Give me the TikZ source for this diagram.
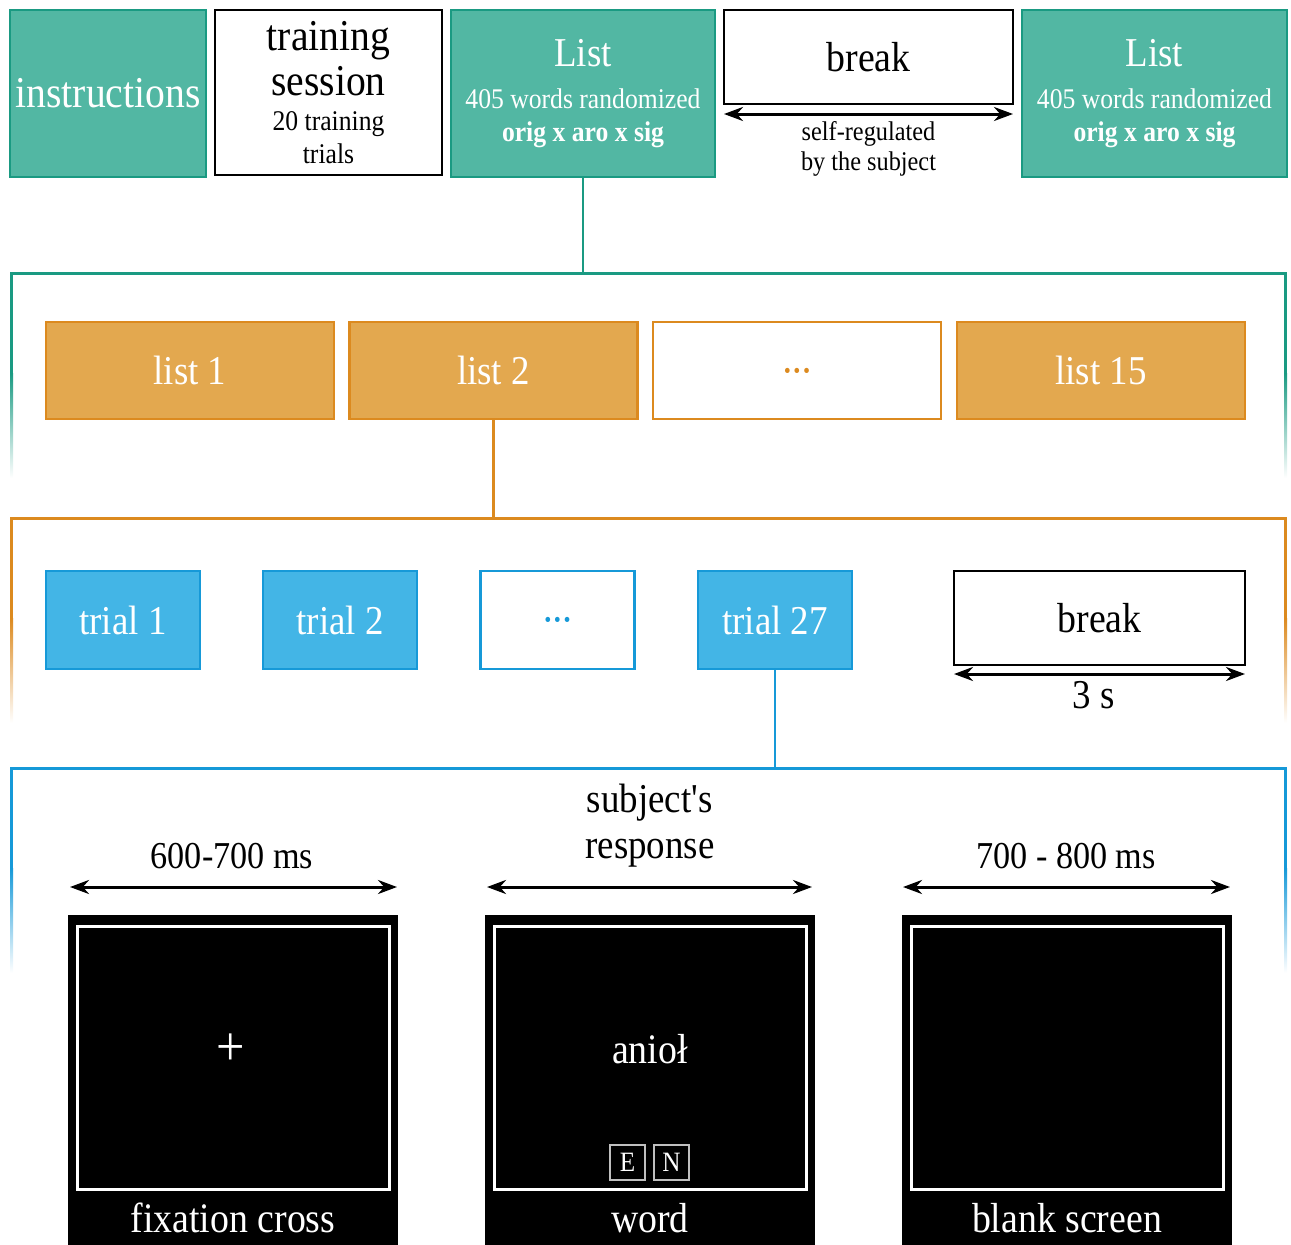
\documentclass[tikz,border=0pt]{standalone}
\usepackage{fontspec}
\setmainfont{Liberation Serif}[FakeStretch=0.9]
\usetikzlibrary{arrows.meta}

\definecolor{tealfill}{HTML}{52B7A3}
\definecolor{tealline}{HTML}{1A9A82}
\definecolor{orangefill}{HTML}{E3A84F}
\definecolor{orangeline}{HTML}{DC8A1F}
\definecolor{bluefill}{HTML}{43B5E6}
\definecolor{blueline}{HTML}{1699D8}

\newcommand{\txthuge}{\fontsize{44}{45}\selectfont}
\newcommand{\txtbig}{\fontsize{41}{46}\selectfont}
\newcommand{\txtsmall}{\fontsize{28.5}{33}\selectfont}

\tikzset{
  tealbox/.style={draw=tealline, fill=tealfill, line width=2.5pt, text=white, inner sep=0pt, align=center},
  orangebox/.style={draw=orangeline, fill=orangefill, line width=2.5pt, text=white, inner sep=0pt,
    minimum width=288, minimum height=97, font=\txtbig},
  bluebox/.style={draw=blueline, fill=bluefill, line width=2.5pt, text=white, inner sep=0pt,
    minimum width=154, minimum height=98, font=\txtbig},
  dotsbox/.style={fill=white, font=\fontsize{32}{34}\selectfont\bfseries, text height=21pt, text depth=0pt},
  plainbox/.style={draw=black, fill=white, line width=2pt, inner sep=0pt, align=center},
  screen/.style={fill=black, inner sep=0pt, minimum width=330, minimum height=330},
  screenin/.style={draw=white, line width=3pt, inner sep=0pt, minimum width=312, minimum height=263,
    text=white, font=\fontsize{42}{46}\selectfont},
  keybox/.style={draw=white!75!black, line width=1.2pt, inner sep=0pt, minimum size=35,
    text=white, font=\fontsize{28}{30}\selectfont},
  dimarrow/.style={{Stealth[length=19pt,width=14pt]}-{Stealth[length=19pt,width=14pt]}, line width=3pt},
  link/.style={line width=2.5pt},
}

\begin{document}
\begin{tikzpicture}[x=1pt,y=-1pt]
  \useasboundingbox (0,0) rectangle (1291,1245);

  % session
  \node[tealbox, minimum width=196, minimum height=167, font=\txthuge] (instr) at (108,93.5) {instructions};
  \node[plainbox, minimum width=227, minimum height=165, font=\txtsmall] (train) at (328.5,92.5)
    {{\txthuge training}\\[5.5pt]{\txthuge session}\\[2pt]20 training\\trials};
  \node[tealbox, minimum width=264, minimum height=167, font=\txtsmall] (listA) at (583,93.5)
    {{\txtbig List}\\[9pt]405 words randomized\\\textbf{orig x aro x sig}};
  \node[plainbox, minimum width=289, minimum height=94, font=\fontsize{42}{46}\selectfont] (pauseA) at (868.5,57) {break};
  \node[tealbox, minimum width=265, minimum height=167, font=\txtsmall] (listB) at (1154.5,93.5)
    {{\txtbig List}\\[9pt]405 words randomized\\\textbf{orig x aro x sig}};

  \coordinate (pauseAl) at (724,114);
  \coordinate (pauseAr) at (1013,114);
  \draw[dimarrow] (pauseAl) -- (pauseAr);
  \node[align=center, font=\fontsize{27}{30}\selectfont] (selfreg) at (868.5,149) {self-regulated\\by the subject};

  % frames with fading sides
  \foreach \col/\yy in {tealline/273, orangeline/518, blueline/768} {
    \draw[\col, line width=3pt] (10,\yy) -- (1287,\yy);
    \fill[\col] (10,\yy-1.5) rectangle (13,\yy+100);
    \shade[top color=\col, bottom color=white] (10,\yy+100) rectangle (13,\yy+205);
    \fill[\col] (1284,\yy-1.5) rectangle (1287,\yy+100);
    \shade[top color=\col, bottom color=white] (1284,\yy+100) rectangle (1287,\yy+205);
  }
  \coordinate (tealtop) at (0,273);
  \coordinate (orangetop) at (0,518);
  \coordinate (bluetop) at (0,768);

  % lists
  \node[orangebox] (list1) at (190,370.5) {list 1};
  \node[orangebox] (list2) at (493.5,370.5) {list 2};
  \node[orangebox, dotsbox, text=orangeline] (listdots) at (797,370.5) {···};
  \node[orangebox] (list15) at (1101,370.5) {list 15};

  % trials
  \node[bluebox] (trial1) at (123,620) {trial 1};
  \node[bluebox] (trial2) at (340,620) {trial 2};
  \node[bluebox, dotsbox, text=blueline] (trialdots) at (557.5,620) {···};
  \node[bluebox] (trial27) at (775,620) {trial 27};
  \node[plainbox, minimum width=291, minimum height=94, font=\fontsize{42}{46}\selectfont] (pauseB) at (1099.5,618) {break};
  \coordinate (pauseBl) at (954,674);
  \coordinate (pauseBr) at (1245,674);
  \draw[dimarrow] (pauseBl) -- (pauseBr);
  \node[font=\txtbig] (threesec) at (1094,695) {3 s};

  \draw[link, tealline] (listA.south) -- (listA.south |- tealtop);
  \draw[link, orangeline] (list2.south) -- (list2.south |- orangetop);
  \draw[link, blueline] (trial27.south) -- (trial27.south |- bluetop);

  % one trial
  \coordinate (fixl) at (70,887);
  \coordinate (fixr) at (397,887);
  \coordinate (wordl) at (487,887);
  \coordinate (wordr) at (812,887);
  \coordinate (blankl) at (903,887);
  \coordinate (blankr) at (1230,887);
  \draw[dimarrow] (fixl) -- (fixr);
  \draw[dimarrow] (wordl) -- (wordr);
  \draw[dimarrow] (blankl) -- (blankr);
  \node[font=\fontsize{38}{42}\selectfont] (fixtime) at (232,856) {600-700 ms};
  \node[align=center, font=\txtbig] (wordtime) at (650,826) {subject\textquotesingle s\\response};
  \node[font=\fontsize{38}{42}\selectfont] (blanktime) at (1066,856) {700 - 800 ms};

  \node[screen] (scrA) at (233,1080) {};
  \node[screen] (scrB) at (650,1080) {};
  \node[screen] (scrC) at (1067,1080) {};
  \node[screenin] (scrAin) at (233,1057.5) {};
  \node[screenin] (scrBin) at (650,1057.5) {};
  \node[screenin] (scrCin) at (1067,1057.5) {};

  \node[text=white, font=\fontsize{56}{60}\selectfont] (cross) at (231,1050) {+};
  \node[text=white, font=\fontsize{42}{46}\selectfont] (word) at (650,1049) {anioł};
  \node[keybox] (keyE) at (627.5,1162.5) {E};
  \node[keybox] (keyN) at (671.5,1162.5) {N};

  \node[text=white, font=\fontsize{42}{46}\selectfont] (fixlbl) at (233,1218) {fixation cross};
  \node[text=white, font=\fontsize{42}{46}\selectfont] (wordlbl) at (650,1218) {word};
  \node[text=white, font=\fontsize{42}{46}\selectfont] (blanklbl) at (1067,1218) {blank screen};
\end{tikzpicture}
\end{document}
